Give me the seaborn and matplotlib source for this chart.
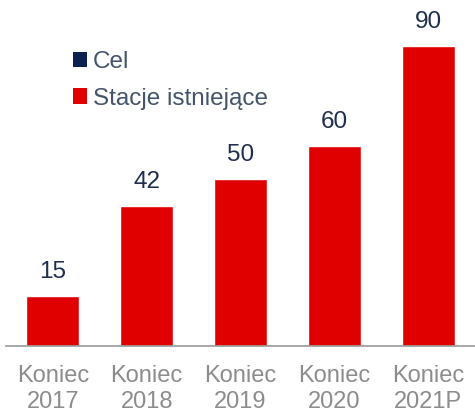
import seaborn as sns
import matplotlib.pyplot as plt
from matplotlib.patches import Patch

# values
categories = ["Koniec\n2017", "Koniec\n2018", "Koniec\n2019", "Koniec\n2020", "Koniec\n2021P"]
stations = [15, 42, 50, 60, 90]
legend_labels = ["Cel", "Stacje istniejące"]

red = "#E00000"
navy = "#0C2150"

sns.set_theme(style="white")
plt.rcParams["font.family"] = ["Liberation Sans", "DejaVu Sans"]

fig = plt.figure(figsize=(4.75, 4.12), dpi=100)
ax = fig.add_axes([6 / 475, 66 / 412, 469 / 475, 346 / 412])

sns.barplot(x=categories, y=stations, color=red, width=0.564, saturation=1, ax=ax)

# value labels above bars
ax.bar_label(ax.containers[0], fontsize=17.5, color="#1F2D4E", padding=9.5)

ax.set_xlim(-0.5, 4.5)
ax.set_ylim(0, 103.8)
ax.set_yticks([])
ax.set_ylabel("")
for s in ["top", "right", "left"]:
    ax.spines[s].set_visible(False)
ax.spines["bottom"].set_color("#999999")
ax.spines["bottom"].set_linewidth(1.2)
ax.tick_params(axis="x", length=0, pad=14, labelsize=17, labelcolor="#8C8C8C")
for lbl in ax.get_xticklabels():
    lbl.set_linespacing(1.2)

# legend with the target entry (no bars drawn for it)
handles = [Patch(facecolor=navy, edgecolor="none"), Patch(facecolor=red, edgecolor="none")]
leg = ax.legend(handles, legend_labels, loc="upper left", bbox_to_anchor=(73 / 475, 1 - 51 / 412),
                bbox_transform=fig.transFigure, frameon=False, fontsize=17.5,
                handlelength=0.58, handleheight=0.58, handletextpad=0.25,
                labelspacing=0.6, borderpad=0, borderaxespad=0)
for t in leg.get_texts():
    t.set_color("#44546A")

fig.savefig("out.png", dpi=100)
